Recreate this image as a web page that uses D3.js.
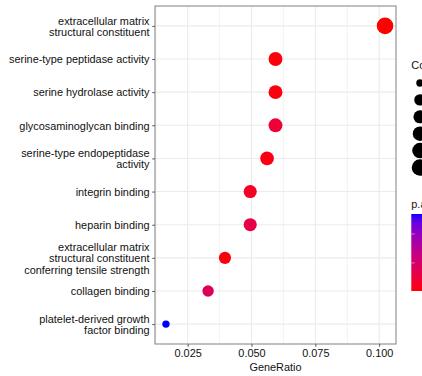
<!DOCTYPE html>
<html>
<head>
<meta charset="utf-8">
<script src="https://cdn.jsdelivr.net/npm/d3@7"></script>
<style>
  html, body { margin: 0; padding: 0; background: #fff; overflow: hidden; }
  text { font-family: "Liberation Sans", Arial, sans-serif; }
</style>
</head>
<body>
<svg id="chart" width="422" height="376"></svg>
<script>
// GO terms, listed top to bottom
const terms = [
  "extracellular matrix\nstructural constituent",
  "serine-type peptidase activity",
  "serine hydrolase activity",
  "glycosaminoglycan binding",
  "serine-type endopeptidase\nactivity",
  "integrin binding",
  "heparin binding",
  "extracellular matrix\nstructural constituent\nconferring tensile strength",
  "collagen binding",
  "platelet-derived growth\nfactor binding"
];
const geneRatio = [0.1023, 0.0594, 0.0594, 0.0594, 0.0561, 0.0495, 0.0495, 0.0396, 0.0330, 0.0165];
const counts    = [31, 18, 18, 18, 17, 15, 15, 12, 10, 5];
const pAdjust   = [0.0003, 0.0008, 0.0009, 0.0042, 0.0012, 0.0025, 0.0060, 0.0008, 0.0080, 0.0269];
const xTicks = [0.025, 0.050, 0.075, 0.100];
const xMinor = [0.0125, 0.0375, 0.0625, 0.0875];
const countBreaks = [5, 10, 15, 20, 25, 30];
const pBreaks = [0.01, 0.02];

const svg = d3.select("#chart");
const panel = { left: 155, right: 396, top: 6, bottom: 344 };
const FS = 10.9;

// x scale with 5% expansion on each side
const [gMin, gMax] = d3.extent(geneRatio);
const pad = (gMax - gMin) * 0.05;
const x = d3.scaleLinear().domain([gMin - pad, gMax + pad]).range([panel.left, panel.right]);
const y = d3.scalePoint().domain(terms).range([panel.top, panel.bottom]).padding(0.6);

// point size: area-proportional between min and max radius
const [cMin, cMax] = d3.extent(counts);
const rScale = d3.scaleLinear().domain([0, 1]).range([3.7, 8.3]);
const radius = c => rScale(Math.sqrt((c - cMin) / (cMax - cMin)));

// colour: red (low p.adjust) to blue (high), Lab interpolation
const [pMin, pMax] = d3.extent(pAdjust);
const color = d3.scaleLinear().domain([pMin, pMax]).range(["red", "blue"]).interpolate(d3.interpolateLab);

// panel background + grid
const g = svg.append("g");
g.append("rect").attr("x", panel.left).attr("y", panel.top)
  .attr("width", panel.right - panel.left).attr("height", panel.bottom - panel.top)
  .attr("fill", "#fff");

g.selectAll("line.minor").data(xMinor).join("line")
  .attr("x1", d => x(d)).attr("x2", d => x(d))
  .attr("y1", panel.top).attr("y2", panel.bottom)
  .attr("stroke", "#f0f0f0").attr("stroke-width", 0.8);
g.selectAll("line.vmajor").data(xTicks).join("line")
  .attr("x1", d => x(d)).attr("x2", d => x(d))
  .attr("y1", panel.top).attr("y2", panel.bottom)
  .attr("stroke", "#ebebeb").attr("stroke-width", 1.1);
g.selectAll("line.hmajor").data(terms).join("line")
  .attr("x1", panel.left).attr("x2", panel.right)
  .attr("y1", d => y(d)).attr("y2", d => y(d))
  .attr("stroke", "#ebebeb").attr("stroke-width", 1.1);

// points
const rows = terms.map((t, i) => ({ term: t, gr: geneRatio[i], count: counts[i], p: pAdjust[i] }));
g.selectAll("circle.pt").data(rows).join("circle")
  .attr("cx", d => x(d.gr)).attr("cy", d => y(d.term))
  .attr("r", d => radius(d.count))
  .attr("fill", d => color(d.p));

// panel border
g.append("rect").attr("x", panel.left).attr("y", panel.top)
  .attr("width", panel.right - panel.left).attr("height", panel.bottom - panel.top)
  .attr("fill", "none").attr("stroke", "#808080").attr("stroke-width", 1);

// x axis
const xAxis = d3.axisBottom(x).tickValues(xTicks).tickFormat(d3.format(".3f")).tickSize(2.75).tickPadding(3);
const gx = svg.append("g").attr("transform", `translate(0,${panel.bottom})`).call(xAxis);
gx.select(".domain").remove();
gx.selectAll(".tick line").attr("stroke", "#555");
gx.selectAll(".tick text").attr("font-size", FS).attr("fill", "#111")
  .attr("font-family", "Liberation Sans, Arial, sans-serif");

// y axis with multi-line labels
const yAxis = d3.axisLeft(y).tickSize(2.75).tickPadding(3).tickFormat("");
const gy = svg.append("g").attr("transform", `translate(${panel.left},0)`).call(yAxis);
gy.select(".domain").remove();
gy.selectAll(".tick line").attr("stroke", "#555");
const lineH = 11.4;
gy.selectAll(".tick").each(function(d) {
  const lines = d.split("\n");
  const t = d3.select(this).append("text")
    .attr("x", -5.5).attr("text-anchor", "end")
    .attr("font-size", FS).attr("fill", "#111");
  lines.forEach((ln, i) => {
    t.append("tspan").attr("x", -5.5)
      .attr("y", (i - (lines.length - 1) / 2) * lineH)
      .attr("dy", "0.35em").text(ln);
  });
});

// x axis title
svg.append("text").attr("x", (panel.left + panel.right) / 2).attr("y", 371)
  .attr("text-anchor", "middle").attr("font-size", FS).attr("fill", "#111")
  .text("GeneRatio");

// Count legend (keys sit at the right edge of the canvas)
const legX = 411.3, keyW = 17.3;
svg.append("text").attr("x", legX).attr("y", 69).attr("font-size", FS).attr("fill", "#111").text("Count");
const keyY = d3.scaleLinear().domain([0, countBreaks.length - 1]).range([83, 167.5]);
svg.selectAll("circle.key").data(countBreaks).join("circle")
  .attr("cx", legX + keyW / 2).attr("cy", (d, i) => keyY(i))
  .attr("r", d => radius(d)).attr("fill", "#000");

// p.adjust colour bar
svg.append("text").attr("x", legX).attr("y", 208).attr("font-size", FS).attr("fill", "#111").text("p.adjust");
const barTop = 214, barBot = 291;
const grad = svg.append("defs").append("linearGradient").attr("id", "pbar")
  .attr("x1", 0).attr("y1", 1).attr("x2", 0).attr("y2", 0);
d3.range(0, 1.0001, 0.05).forEach(f => {
  grad.append("stop").attr("offset", f).attr("stop-color", color(pMin + f * (pMax - pMin)));
});
svg.append("rect").attr("x", legX).attr("y", barTop).attr("width", keyW).attr("height", barBot - barTop)
  .attr("fill", "url(#pbar)");
const barY = d3.scaleLinear().domain([pMin, pMax]).range([barBot, barTop]);
svg.selectAll("line.btick").data(pBreaks).join("line")
  .attr("x1", legX).attr("x2", legX + keyW / 5)
  .attr("y1", d => barY(d)).attr("y2", d => barY(d))
  .attr("stroke", "#fff").attr("stroke-width", 0.6).attr("stroke-opacity", 0.8);
</script>
</body>
</html>
